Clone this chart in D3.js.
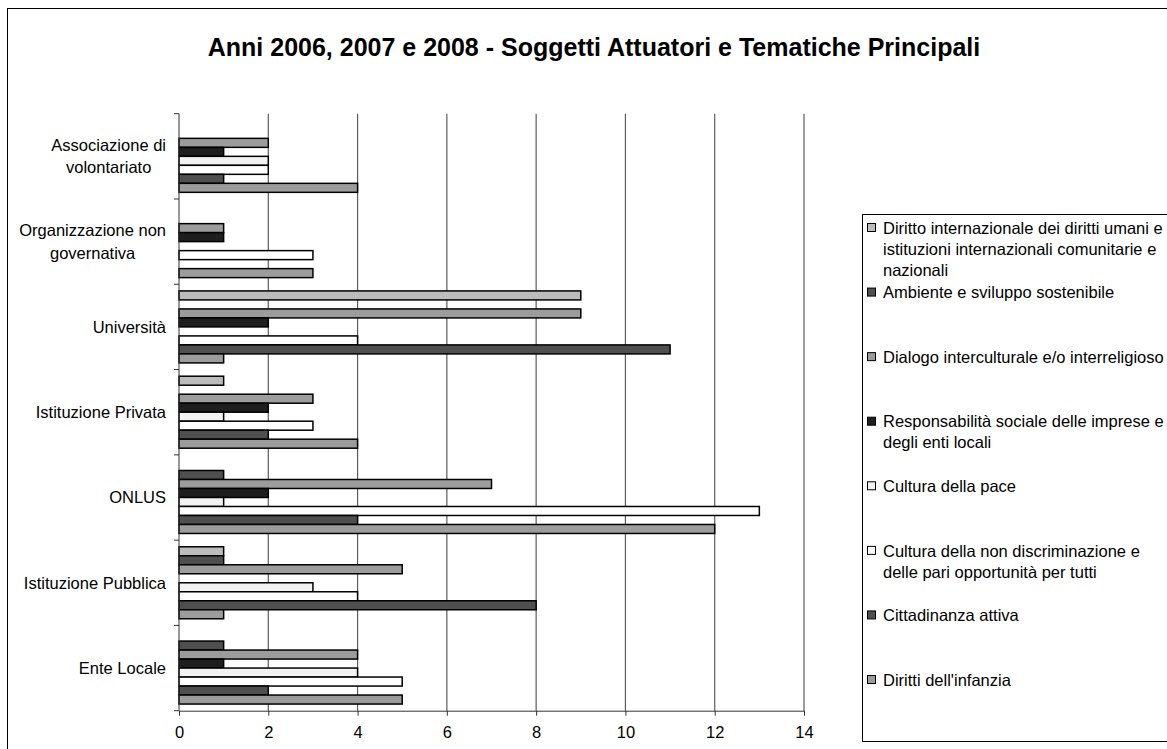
<!DOCTYPE html>
<meta charset="utf-8">
<style>

body {
  margin: 0;
  background: #fff;
}

svg {
  display: block;
  font-family: "Liberation Sans", Arial, sans-serif;
}

.grid line {
  stroke: #5c5c5c;
  stroke-width: 1.2px;
}

.bar {
  stroke: #000;
  stroke-width: 1.5px;
}

.axis text,
.label,
.legend text {
  font-size: 16.5px;
  fill: #000;
}

</style>
<svg width="1167" height="749"></svg>
<script src="https://cdn.jsdelivr.net/npm/d3@7/dist/d3.min.js"></script>
<script>

// categories listed top to bottom, as in the picture
var categories = [
  "Associazione di volontariato",
  "Organizzazione non governativa",
  "Università",
  "Istituzione Privata",
  "ONLUS",
  "Istituzione Pubblica",
  "Ente Locale"
];

var seriesNames = [
  "Diritto internazionale dei diritti umani e istituzioni internazionali comunitarie e nazionali",
  "Ambiente e sviluppo sostenibile",
  "Dialogo interculturale e/o interreligioso",
  "Responsabilità sociale delle imprese e degli enti locali",
  "Cultura della pace",
  "Cultura della non discriminazione e delle pari opportunità per tutti",
  "Cittadinanza attiva",
  "Diritti dell'infanzia"
];

var seriesColors = ["#bcbcbc", "#4f4f4f", "#9c9c9c", "#1e1e1e", "#f2f2f2", "#ffffff", "#4f4f4f", "#9c9c9c"];

var dirittoInternazionale = [0, 0, 9, 1, 0, 1, 0];
var ambiente              = [0, 0, 0, 0, 1, 1, 1];
var dialogo               = [2, 1, 9, 3, 7, 5, 4];
var responsabilita        = [1, 1, 2, 2, 2, 0, 1];
var culturaPace           = [2, 0, 0, 1, 1, 3, 4];
var nonDiscriminazione    = [2, 3, 4, 3, 13, 4, 5];
var cittadinanza          = [1, 0, 11, 2, 4, 8, 2];
var dirittiInfanzia       = [4, 3, 1, 4, 12, 1, 5];

var xTicks = [0, 2, 4, 6, 8, 10, 12, 14];

var title = "Anni 2006, 2007 e 2008 - Soggetti Attuatori e Tematiche Principali";

var seriesValues = [dirittoInternazionale, ambiente, dialogo, responsabilita,
                    culturaPace, nonDiscriminazione, cittadinanza, dirittiInfanzia];

var svg = d3.select("svg"),
    plotLeft = 179, plotRight = 804,
    plotTop = 113.7, plotBottom = 710.7;

// chart area border (runs off the right and bottom edges)
svg.append("rect")
    .attr("x", 7.5).attr("y", 8.5)
    .attr("width", 1300).attr("height", 900)
    .attr("fill", "#fff")
    .attr("stroke", "#000");

svg.append("text")
    .attr("x", 594).attr("y", 56)
    .attr("text-anchor", "middle")
    .style("font-size", "25px")
    .style("font-weight", "bold")
    .text(title);

var x = d3.scaleLinear()
    .domain([0, 14])
    .range([plotLeft, plotRight]);

var y = d3.scaleBand()
    .domain(categories)
    .range([plotTop, plotBottom])
    .paddingInner(0.156)
    .paddingOuter(0.078);

var ys = d3.scaleBand()
    .domain(d3.range(seriesNames.length))
    .range([0, y.bandwidth()]);

// vertical gridlines
svg.append("g")
    .attr("class", "grid")
  .selectAll("line")
  .data(xTicks.slice(1))
  .enter().append("line")
    .attr("x1", function(d) { return x(d); })
    .attr("x2", function(d) { return x(d); })
    .attr("y1", plotTop)
    .attr("y2", plotBottom);

// bars
var table = [];
seriesValues.forEach(function(vals, s) {
  vals.forEach(function(v, c) {
    if (v > 0) table.push({series: s, category: categories[c], value: v});
  });
});

svg.append("g")
  .selectAll("rect")
  .data(table)
  .enter().append("rect")
    .attr("class", "bar")
    .attr("x", x(0))
    .attr("y", function(d) { return y(d.category) + ys(d.series); })
    .attr("width", function(d) { return x(d.value) - x(0); })
    .attr("height", ys.bandwidth())
    .attr("fill", function(d) { return seriesColors[d.series]; });

// x axis
var xAxis = svg.append("g")
    .attr("class", "axis")
    .attr("transform", "translate(0," + plotBottom + ")")
    .call(d3.axisBottom(x).tickValues(xTicks).tickSize(5).tickPadding(11).tickSizeOuter(0));
xAxis.select(".domain").attr("stroke", "#333");
xAxis.selectAll(".tick line").attr("stroke", "#333");
xAxis.selectAll("text").style("font-family", null).style("font-size", "16.5px");
xAxis.attr("font-family", null).attr("font-size", null);

// y axis line with ticks on category boundaries
var yAxis = svg.append("g");
yAxis.append("line")
    .attr("x1", plotLeft).attr("x2", plotLeft)
    .attr("y1", plotTop).attr("y2", plotBottom)
    .attr("stroke", "#333");

var gapHalf = (y.step() - y.bandwidth()) / 2;
var boundaries = categories.map(function(c) { return y(c) - gapHalf; }).concat([plotBottom]);
yAxis.selectAll(".ytick")
  .data(boundaries)
  .enter().append("line")
    .attr("x1", plotLeft - 5).attr("x2", plotLeft)
    .attr("y1", function(d) { return d; })
    .attr("y2", function(d) { return d; })
    .attr("stroke", "#333");

function wrapWords(text, maxWidth, probe) {
  var words = text.split(" "), lines = [], line = "";
  words.forEach(function(w) {
    var test = line ? line + " " + w : w;
    probe.text(test);
    if (line && probe.node().getComputedTextLength() > maxWidth) {
      lines.push(line);
      line = w;
    } else {
      line = test;
    }
  });
  lines.push(line);
  return lines;
}

var probe = svg.append("text").attr("class", "label").attr("visibility", "hidden");

// category labels: lines centred on each other, block right-aligned
var lineH = 22.5;
categories.forEach(function(c) {
  var lines = wrapWords(c, 160, probe);
  var widths = lines.map(function(l) { probe.text(l); return probe.node().getComputedTextLength(); });
  var cx = 166 - d3.max(widths) / 2;
  var cy = y(c) + y.bandwidth() / 2 - (lines.length - 1) * lineH / 2;
  var t = svg.append("text")
      .attr("class", "label")
      .attr("text-anchor", "middle");
  lines.forEach(function(l, i) {
    t.append("tspan")
        .attr("x", cx)
        .attr("y", cy + i * lineH)
        .attr("dy", "0.35em")
        .text(l);
  });
});

// legend
svg.append("rect")
    .attr("x", 862.5).attr("y", 214.5)
    .attr("width", 400).attr("height", 527)
    .attr("fill", "#fff")
    .attr("stroke", "#000");

var legendY = d3.scalePoint()
    .domain(d3.range(seriesNames.length))
    .range([228, 680]);

var legend = svg.append("g").attr("class", "legend");
seriesNames.forEach(function(name, i) {
  var ly = legendY(i);
  legend.append("rect")
      .attr("x", 867.5).attr("y", ly - 4.5)
      .attr("width", 8).attr("height", 8)
      .attr("fill", seriesColors[i])
      .attr("stroke", "#000");
  var lines = wrapWords(name, 288, probe);
  var t = legend.append("text");
  lines.forEach(function(l, k) {
    t.append("tspan")
        .attr("x", 883)
        .attr("y", ly + k * 21)
        .attr("dy", "0.35em")
        .text(l);
  });
});

probe.remove();

</script>
